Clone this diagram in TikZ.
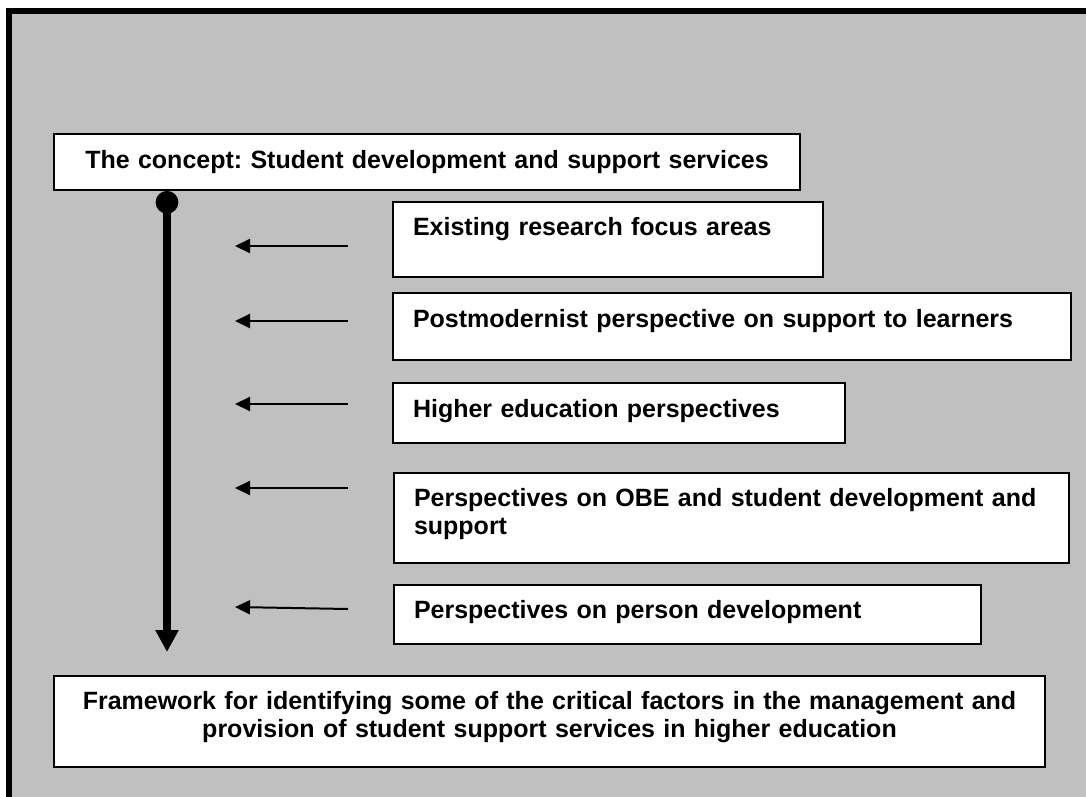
\documentclass[tikz,border=0pt]{standalone}
\usepackage{fontspec}
\setmainfont{Liberation Sans}
\usetikzlibrary{arrows.meta,calc}

\definecolor{panel}{RGB}{192,192,192}
\frenchspacing

\begin{document}
\begin{tikzpicture}[
    x=0.5pt, y=-0.5pt,
    box/.style = { draw, fill=white, line width=1pt, anchor=north west,
                   inner ysep=0pt, font=\fontsize{12.5}{14.4}\selectfont\bfseries },
    side/.style = { box, align=left, inner xsep=10pt },
    wide/.style = { box, align=center, inner xsep=0pt },
    feed/.style = { line width=1pt, -{Triangle[length=7.5pt,width=7pt]} },
    spine/.style = { line width=3.85pt,
                     {Circle[length=11.3pt]}-{Triangle[length=11pt,width=11pt]} }
    ]
\useasboundingbox (0,0) rectangle (1086,797);
% page and grey frame
\fill[white] (0,0) rectangle (1086,797);
\fill[panel] (9,11) rectangle (1086,797);
\draw[line width=3pt] (9,797) -- (9,11) -- (1086,11);
%
\node[wide, text width=373pt, text height=17.15pt, text depth=10.85pt] (concept) at (53,133)
    {The concept: Student development and support services};
\node[side, text width=195pt, text height=16.5pt, text depth=21pt] (exist) at (392,201)
    {Existing research focus areas};
\node[side, text width=319pt, text height=17pt, text depth=16.5pt] (postmod) at (392,292)
    {Postmodernist perspective on support to learners};
\node[side, text width=206pt, text height=17pt, text depth=13pt] (higher) at (392,382)
    {Higher education perspectives};
\node[side, text width=317.5pt, text height=16.5pt, text depth=28.5pt] (obe) at (393,472)
    {Perspectives on OBE and student development and\\ support};
\node[side, text width=273.5pt, text height=16.5pt, text depth=13pt] (person) at (393,584)
    {Perspectives on person development};
\node[wide, text width=495.5pt, text height=16.5pt, text depth=29pt] (framework) at (53,675)
    {Framework for identifying some of the critical factors in the management and\\
     provision of student support services in higher education};
%
\draw[spine] ($(concept.south west)+(114,0)$) -- ($(framework.north west)+(114,-23)$);
%
\foreach \ytail/\yhead [count=\i] in {246/246, 321/321, 404/404, 488/488, 609/607}{
    \coordinate (tail\i) at (348,\ytail);
    \coordinate (head\i) at (235,\yhead);
    \draw[feed] (tail\i) -- (head\i);
}
\end{tikzpicture}
\end{document}
